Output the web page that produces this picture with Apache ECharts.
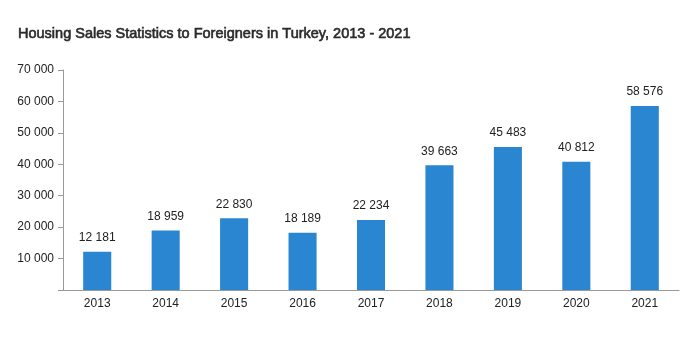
<!DOCTYPE html>
<html><head><meta charset="utf-8">
<script src="https://cdn.jsdelivr.net/npm/echarts@6/dist/echarts.min.js"></script>
<style>html,body{margin:0;padding:0;background:#fff}#c{width:700px;height:350px}</style>
</head><body><div id="c"></div>
<script>
const titleText = 'Housing Sales Statistics to Foreigners in Turkey, 2013 - 2021';
const categories = ['2013','2014','2015','2016','2017','2018','2019','2020','2021'];
const salesValues = [12181, 18959, 22830, 18189, 22234, 39663, 45483, 40812, 58576];
const yTicks = [0, 10000, 20000, 30000, 40000, 50000, 60000, 70000];

function fmt(v){ return String(v).replace(/\B(?=(\d{3})+(?!\d))/g, ' '); }

const chart = echarts.init(document.getElementById('c'));
chart.setOption({
  animation: false,
  backgroundColor: '#fff',
  title: {
    text: titleText, left: 13, top: 21,
    textStyle: { fontFamily: 'Liberation Sans', fontSize: 14.5, fontWeight: 'normal', color: '#2a2a2a',
      textBorderColor: '#2a2a2a', textBorderWidth: 0.6 }
  },
  grid: { left: 63, right: 21, top: 70, bottom: 60 },
  xAxis: {
    type: 'category', data: categories,
    axisLine: { lineStyle: { color: '#999' } },
    axisTick: { length: 5, lineStyle: { color: '#999' } },
    axisLabel: { fontFamily: 'Liberation Sans', fontSize: 12, color: '#222', margin: 8 }
  },
  yAxis: {
    type: 'value', min: yTicks[0], max: yTicks[yTicks.length-1], interval: 10000,
    axisLine: { show: true, lineStyle: { color: '#999' } },
    axisTick: { show: true, length: 5, lineStyle: { color: '#999' } },
    splitLine: { show: false },
    axisLabel: { fontFamily: 'Liberation Sans', fontSize: 12, color: '#222', margin: 9,
      formatter: v => v === 0 ? '' : fmt(v) }
  },
  series: [{
    type: 'bar', data: salesValues, barWidth: '41%',
    itemStyle: { color: '#2a86d1' },
    label: { show: true, position: 'top', distance: 8, fontFamily: 'Liberation Sans', fontSize: 12, color: '#222',
      formatter: p => fmt(p.value) }
  }]
});
</script></body></html>
